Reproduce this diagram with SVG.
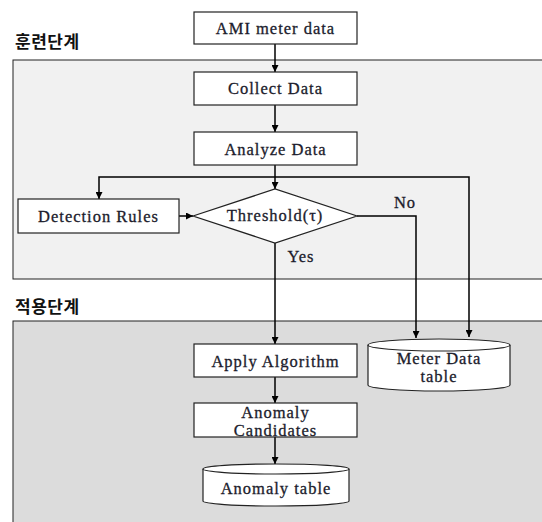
<svg xmlns="http://www.w3.org/2000/svg" width="542" height="522" viewBox="0 0 542 522">
  <defs>
    <marker id="arrow" viewBox="0 0 10 10" refX="10" refY="5" markerWidth="7" markerHeight="7" orient="auto" markerUnits="userSpaceOnUse">
      <path d="M0,0 L10,5 L0,10 z" fill="#000"/>
    </marker>
    <style>
      .box { fill: #fff; stroke: #222; stroke-width: 1.2; }
      .lbl { font-family: "Liberation Serif", "Times New Roman", serif; font-size: 16.5px; fill: #1c1c2c; stroke: #1c1c2c; stroke-width: 0.3; text-anchor: middle; letter-spacing: 1px; }
      .stage { font-family: "Noto Sans CJK KR", sans-serif; font-size: 17px; font-weight: bold; fill: #111; letter-spacing: 0.5px; }
      .conn { fill: none; stroke: #000; stroke-width: 1.5; }
    </style>
  </defs>

  <rect width="542" height="522" fill="#fff"/>

  <!-- stage panels -->
  <g id="training-stage">
    <rect x="13" y="60" width="540" height="219" fill="#f1f1f1" stroke="#222" stroke-width="1"/>
    <text class="stage" x="15" y="48">훈련단계</text>
  </g>
  <g id="apply-stage">
    <rect x="13" y="321" width="540" height="210" fill="#dcdcdc" stroke="#222" stroke-width="1"/>
    <text class="stage" x="15" y="313">적용단계</text>
  </g>

  <!-- connectors -->
  <g id="connectors">
    <line class="conn" x1="275" y1="44" x2="275" y2="72" marker-end="url(#arrow)"/>
    <line class="conn" x1="275" y1="105" x2="275" y2="132" marker-end="url(#arrow)"/>
    <line class="conn" x1="275" y1="165" x2="275" y2="189" marker-end="url(#arrow)"/>
    <polyline class="conn" points="275,177 99,177 99,199" marker-end="url(#arrow)"/>
    <polyline class="conn" points="275,177 469,177 469,337" marker-end="url(#arrow)"/>
    <line class="conn" x1="179" y1="216" x2="193" y2="216" marker-end="url(#arrow)"/>
    <polyline class="conn" points="357,216 416,216 416,338" marker-end="url(#arrow)"/>
    <line class="conn" x1="275" y1="243" x2="275" y2="344" marker-end="url(#arrow)"/>
    <line class="conn" x1="275" y1="377" x2="275" y2="403" marker-end="url(#arrow)"/>
    <line class="conn" x1="275" y1="437" x2="275" y2="464" marker-end="url(#arrow)"/>
    <text class="lbl" x="405" y="208">No</text>
    <text class="lbl" x="301" y="262">Yes</text>
  </g>

  <g id="ami-meter-data">
    <rect class="box" x="194" y="12" width="163" height="32"/>
    <text class="lbl" x="275.5" y="34">AMI meter data</text>
  </g>
  <g id="collect-data">
    <rect class="box" x="194" y="72" width="163" height="33"/>
    <text class="lbl" x="275.5" y="94">Collect Data</text>
  </g>
  <g id="analyze-data">
    <rect class="box" x="194" y="132" width="163" height="33"/>
    <text class="lbl" x="275.5" y="155">Analyze Data</text>
  </g>
  <g id="detection-rules">
    <rect class="box" x="18" y="199" width="161" height="34"/>
    <text class="lbl" x="98.5" y="222">Detection Rules</text>
  </g>
  <g id="threshold">
    <polygon class="box" points="193,216 275,189 357,216 275,243"/>
    <text class="lbl" x="275" y="221">Threshold(τ)</text>
  </g>
  <g id="apply-algorithm">
    <rect class="box" x="194" y="344" width="163" height="33"/>
    <text class="lbl" x="275.5" y="367">Apply Algorithm</text>
  </g>
  <g id="meter-data-table">
    <path class="box" d="M368,345 A71,6 0 0 1 510,345 L510,385 A71,6 0 0 1 368,385 Z"/>
    <path class="box" d="M368,345 A71,6 0 0 0 510,345" fill="none"/>
    <text class="lbl" x="439" y="364">Meter Data</text>
    <text class="lbl" x="439" y="382">table</text>
  </g>
  <g id="anomaly-candidates">
    <rect class="box" x="194" y="403" width="163" height="34"/>
    <text class="lbl" x="275.5" y="418">Anomaly</text>
    <text class="lbl" x="275.5" y="436">Candidates</text>
  </g>
  <g id="anomaly-table">
    <path class="box" d="M203,469 A73,5 0 0 1 349,469 L349,501 A73,5 0 0 1 203,501 Z"/>
    <path class="box" d="M203,469 A73,5 0 0 0 349,469" fill="none"/>
    <text class="lbl" x="276" y="494">Anomaly table</text>
  </g>
</svg>
